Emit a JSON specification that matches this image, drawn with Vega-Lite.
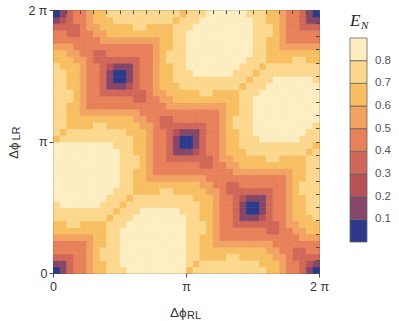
{"$schema":"https://vega.github.io/schema/vega-lite/v6.json","width":266,"height":263,"autosize":{"type":"none"},"padding":{"left":53,"top":10,"right":80,"bottom":48},"background":"#ffffff","config":{"view":{"stroke":"#4d4d4d","strokeWidth":1},"font":"Liberation Sans","axis":{"grid":false}},
"data":{"values":[
{"x":0.025,"y":0.025,"e":0.05},{"x":0.075,"y":0.025,"e":0.15},{"x":0.125,"y":0.025,"e":0.35},{"x":0.175,"y":0.025,"e":0.45},{"x":0.225,"y":0.025,"e":0.45},{"x":0.275,"y":0.025,"e":0.55},{"x":0.325,"y":0.025,"e":0.65},{"x":0.375,"y":0.025,"e":0.65},{"x":0.425,"y":0.025,"e":0.75},{"x":0.475,"y":0.025,"e":0.75},{"x":0.525,"y":0.025,"e":0.75},{"x":0.575,"y":0.025,"e":0.85},{"x":0.625,"y":0.025,"e":0.85},{"x":0.675,"y":0.025,"e":0.85},{"x":0.725,"y":0.025,"e":0.85},{"x":0.775,"y":0.025,"e":0.85},{"x":0.825,"y":0.025,"e":0.85},{"x":0.875,"y":0.025,"e":0.85},{"x":0.925,"y":0.025,"e":0.85},{"x":0.975,"y":0.025,"e":0.85},{"x":1.025,"y":0.025,"e":0.65},{"x":1.075,"y":0.025,"e":0.75},{"x":1.125,"y":0.025,"e":0.75},{"x":1.175,"y":0.025,"e":0.75},{"x":1.225,"y":0.025,"e":0.75},{"x":1.275,"y":0.025,"e":0.75},{"x":1.325,"y":0.025,"e":0.75},{"x":1.375,"y":0.025,"e":0.75},{"x":1.425,"y":0.025,"e":0.75},{"x":1.475,"y":0.025,"e":0.75},{"x":1.525,"y":0.025,"e":0.75},{"x":1.575,"y":0.025,"e":0.75},{"x":1.625,"y":0.025,"e":0.65},{"x":1.675,"y":0.025,"e":0.65},{"x":1.725,"y":0.025,"e":0.55},{"x":1.775,"y":0.025,"e":0.45},{"x":1.825,"y":0.025,"e":0.45},{"x":1.875,"y":0.025,"e":0.35},{"x":1.925,"y":0.025,"e":0.15},{"x":1.975,"y":0.025,"e":0.05},
{"x":0.025,"y":0.075,"e":0.15},{"x":0.075,"y":0.075,"e":0.15},{"x":0.125,"y":0.075,"e":0.35},{"x":0.175,"y":0.075,"e":0.45},{"x":0.225,"y":0.075,"e":0.45},{"x":0.275,"y":0.075,"e":0.55},{"x":0.325,"y":0.075,"e":0.65},{"x":0.375,"y":0.075,"e":0.65},{"x":0.425,"y":0.075,"e":0.75},{"x":0.475,"y":0.075,"e":0.75},{"x":0.525,"y":0.075,"e":0.85},{"x":0.575,"y":0.075,"e":0.85},{"x":0.625,"y":0.075,"e":0.85},{"x":0.675,"y":0.075,"e":0.85},{"x":0.725,"y":0.075,"e":0.85},{"x":0.775,"y":0.075,"e":0.85},{"x":0.825,"y":0.075,"e":0.85},{"x":0.875,"y":0.075,"e":0.85},{"x":0.925,"y":0.075,"e":0.85},{"x":0.975,"y":0.075,"e":0.85},{"x":1.025,"y":0.075,"e":0.75},{"x":1.075,"y":0.075,"e":0.65},{"x":1.125,"y":0.075,"e":0.75},{"x":1.175,"y":0.075,"e":0.75},{"x":1.225,"y":0.075,"e":0.75},{"x":1.275,"y":0.075,"e":0.75},{"x":1.325,"y":0.075,"e":0.75},{"x":1.375,"y":0.075,"e":0.75},{"x":1.425,"y":0.075,"e":0.75},{"x":1.475,"y":0.075,"e":0.75},{"x":1.525,"y":0.075,"e":0.75},{"x":1.575,"y":0.075,"e":0.65},{"x":1.625,"y":0.075,"e":0.65},{"x":1.675,"y":0.075,"e":0.65},{"x":1.725,"y":0.075,"e":0.55},{"x":1.775,"y":0.075,"e":0.45},{"x":1.825,"y":0.075,"e":0.45},{"x":1.875,"y":0.075,"e":0.35},{"x":1.925,"y":0.075,"e":0.25},{"x":1.975,"y":0.075,"e":0.15},
{"x":0.025,"y":0.125,"e":0.35},{"x":0.075,"y":0.125,"e":0.35},{"x":0.125,"y":0.125,"e":0.35},{"x":0.175,"y":0.125,"e":0.45},{"x":0.225,"y":0.125,"e":0.45},{"x":0.275,"y":0.125,"e":0.55},{"x":0.325,"y":0.125,"e":0.65},{"x":0.375,"y":0.125,"e":0.75},{"x":0.425,"y":0.125,"e":0.75},{"x":0.475,"y":0.125,"e":0.75},{"x":0.525,"y":0.125,"e":0.85},{"x":0.575,"y":0.125,"e":0.85},{"x":0.625,"y":0.125,"e":0.85},{"x":0.675,"y":0.125,"e":0.85},{"x":0.725,"y":0.125,"e":0.85},{"x":0.775,"y":0.125,"e":0.85},{"x":0.825,"y":0.125,"e":0.85},{"x":0.875,"y":0.125,"e":0.85},{"x":0.925,"y":0.125,"e":0.85},{"x":0.975,"y":0.125,"e":0.85},{"x":1.025,"y":0.125,"e":0.75},{"x":1.075,"y":0.125,"e":0.75},{"x":1.125,"y":0.125,"e":0.65},{"x":1.175,"y":0.125,"e":0.65},{"x":1.225,"y":0.125,"e":0.65},{"x":1.275,"y":0.125,"e":0.65},{"x":1.325,"y":0.125,"e":0.75},{"x":1.375,"y":0.125,"e":0.75},{"x":1.425,"y":0.125,"e":0.65},{"x":1.475,"y":0.125,"e":0.65},{"x":1.525,"y":0.125,"e":0.65},{"x":1.575,"y":0.125,"e":0.65},{"x":1.625,"y":0.125,"e":0.65},{"x":1.675,"y":0.125,"e":0.55},{"x":1.725,"y":0.125,"e":0.55},{"x":1.775,"y":0.125,"e":0.45},{"x":1.825,"y":0.125,"e":0.35},{"x":1.875,"y":0.125,"e":0.35},{"x":1.925,"y":0.125,"e":0.35},{"x":1.975,"y":0.125,"e":0.35},
{"x":0.025,"y":0.175,"e":0.45},{"x":0.075,"y":0.175,"e":0.45},{"x":0.125,"y":0.175,"e":0.45},{"x":0.175,"y":0.175,"e":0.45},{"x":0.225,"y":0.175,"e":0.45},{"x":0.275,"y":0.175,"e":0.55},{"x":0.325,"y":0.175,"e":0.65},{"x":0.375,"y":0.175,"e":0.75},{"x":0.425,"y":0.175,"e":0.75},{"x":0.475,"y":0.175,"e":0.75},{"x":0.525,"y":0.175,"e":0.85},{"x":0.575,"y":0.175,"e":0.85},{"x":0.625,"y":0.175,"e":0.85},{"x":0.675,"y":0.175,"e":0.85},{"x":0.725,"y":0.175,"e":0.85},{"x":0.775,"y":0.175,"e":0.85},{"x":0.825,"y":0.175,"e":0.85},{"x":0.875,"y":0.175,"e":0.85},{"x":0.925,"y":0.175,"e":0.85},{"x":0.975,"y":0.175,"e":0.85},{"x":1.025,"y":0.175,"e":0.75},{"x":1.075,"y":0.175,"e":0.75},{"x":1.125,"y":0.175,"e":0.65},{"x":1.175,"y":0.175,"e":0.65},{"x":1.225,"y":0.175,"e":0.65},{"x":1.275,"y":0.175,"e":0.65},{"x":1.325,"y":0.175,"e":0.65},{"x":1.375,"y":0.175,"e":0.65},{"x":1.425,"y":0.175,"e":0.65},{"x":1.475,"y":0.175,"e":0.65},{"x":1.525,"y":0.175,"e":0.65},{"x":1.575,"y":0.175,"e":0.65},{"x":1.625,"y":0.175,"e":0.55},{"x":1.675,"y":0.175,"e":0.55},{"x":1.725,"y":0.175,"e":0.45},{"x":1.775,"y":0.175,"e":0.45},{"x":1.825,"y":0.175,"e":0.35},{"x":1.875,"y":0.175,"e":0.35},{"x":1.925,"y":0.175,"e":0.45},{"x":1.975,"y":0.175,"e":0.45},
{"x":0.025,"y":0.225,"e":0.45},{"x":0.075,"y":0.225,"e":0.45},{"x":0.125,"y":0.225,"e":0.45},{"x":0.175,"y":0.225,"e":0.45},{"x":0.225,"y":0.225,"e":0.45},{"x":0.275,"y":0.225,"e":0.55},{"x":0.325,"y":0.225,"e":0.65},{"x":0.375,"y":0.225,"e":0.65},{"x":0.425,"y":0.225,"e":0.75},{"x":0.475,"y":0.225,"e":0.75},{"x":0.525,"y":0.225,"e":0.85},{"x":0.575,"y":0.225,"e":0.85},{"x":0.625,"y":0.225,"e":0.85},{"x":0.675,"y":0.225,"e":0.85},{"x":0.725,"y":0.225,"e":0.85},{"x":0.775,"y":0.225,"e":0.85},{"x":0.825,"y":0.225,"e":0.85},{"x":0.875,"y":0.225,"e":0.85},{"x":0.925,"y":0.225,"e":0.85},{"x":0.975,"y":0.225,"e":0.85},{"x":1.025,"y":0.225,"e":0.75},{"x":1.075,"y":0.225,"e":0.75},{"x":1.125,"y":0.225,"e":0.65},{"x":1.175,"y":0.225,"e":0.65},{"x":1.225,"y":0.225,"e":0.55},{"x":1.275,"y":0.225,"e":0.55},{"x":1.325,"y":0.225,"e":0.55},{"x":1.375,"y":0.225,"e":0.55},{"x":1.425,"y":0.225,"e":0.55},{"x":1.475,"y":0.225,"e":0.55},{"x":1.525,"y":0.225,"e":0.55},{"x":1.575,"y":0.225,"e":0.55},{"x":1.625,"y":0.225,"e":0.55},{"x":1.675,"y":0.225,"e":0.45},{"x":1.725,"y":0.225,"e":0.45},{"x":1.775,"y":0.225,"e":0.45},{"x":1.825,"y":0.225,"e":0.45},{"x":1.875,"y":0.225,"e":0.45},{"x":1.925,"y":0.225,"e":0.45},{"x":1.975,"y":0.225,"e":0.45},
{"x":0.025,"y":0.275,"e":0.55},{"x":0.075,"y":0.275,"e":0.55},{"x":0.125,"y":0.275,"e":0.55},{"x":0.175,"y":0.275,"e":0.55},{"x":0.225,"y":0.275,"e":0.55},{"x":0.275,"y":0.275,"e":0.55},{"x":0.325,"y":0.275,"e":0.65},{"x":0.375,"y":0.275,"e":0.65},{"x":0.425,"y":0.275,"e":0.75},{"x":0.475,"y":0.275,"e":0.75},{"x":0.525,"y":0.275,"e":0.85},{"x":0.575,"y":0.275,"e":0.85},{"x":0.625,"y":0.275,"e":0.85},{"x":0.675,"y":0.275,"e":0.85},{"x":0.725,"y":0.275,"e":0.85},{"x":0.775,"y":0.275,"e":0.85},{"x":0.825,"y":0.275,"e":0.85},{"x":0.875,"y":0.275,"e":0.85},{"x":0.925,"y":0.275,"e":0.85},{"x":0.975,"y":0.275,"e":0.85},{"x":1.025,"y":0.275,"e":0.75},{"x":1.075,"y":0.275,"e":0.75},{"x":1.125,"y":0.275,"e":0.65},{"x":1.175,"y":0.275,"e":0.65},{"x":1.225,"y":0.275,"e":0.55},{"x":1.275,"y":0.275,"e":0.45},{"x":1.325,"y":0.275,"e":0.45},{"x":1.375,"y":0.275,"e":0.45},{"x":1.425,"y":0.275,"e":0.45},{"x":1.475,"y":0.275,"e":0.45},{"x":1.525,"y":0.275,"e":0.45},{"x":1.575,"y":0.275,"e":0.45},{"x":1.625,"y":0.275,"e":0.45},{"x":1.675,"y":0.275,"e":0.45},{"x":1.725,"y":0.275,"e":0.45},{"x":1.775,"y":0.275,"e":0.45},{"x":1.825,"y":0.275,"e":0.45},{"x":1.875,"y":0.275,"e":0.55},{"x":1.925,"y":0.275,"e":0.55},{"x":1.975,"y":0.275,"e":0.55},
{"x":0.025,"y":0.325,"e":0.65},{"x":0.075,"y":0.325,"e":0.65},{"x":0.125,"y":0.325,"e":0.65},{"x":0.175,"y":0.325,"e":0.65},{"x":0.225,"y":0.325,"e":0.65},{"x":0.275,"y":0.325,"e":0.65},{"x":0.325,"y":0.325,"e":0.65},{"x":0.375,"y":0.325,"e":0.65},{"x":0.425,"y":0.325,"e":0.75},{"x":0.475,"y":0.325,"e":0.75},{"x":0.525,"y":0.325,"e":0.85},{"x":0.575,"y":0.325,"e":0.85},{"x":0.625,"y":0.325,"e":0.85},{"x":0.675,"y":0.325,"e":0.85},{"x":0.725,"y":0.325,"e":0.85},{"x":0.775,"y":0.325,"e":0.85},{"x":0.825,"y":0.325,"e":0.85},{"x":0.875,"y":0.325,"e":0.85},{"x":0.925,"y":0.325,"e":0.85},{"x":0.975,"y":0.325,"e":0.85},{"x":1.025,"y":0.325,"e":0.75},{"x":1.075,"y":0.325,"e":0.75},{"x":1.125,"y":0.325,"e":0.75},{"x":1.175,"y":0.325,"e":0.65},{"x":1.225,"y":0.325,"e":0.55},{"x":1.275,"y":0.325,"e":0.45},{"x":1.325,"y":0.325,"e":0.45},{"x":1.375,"y":0.325,"e":0.45},{"x":1.425,"y":0.325,"e":0.45},{"x":1.475,"y":0.325,"e":0.45},{"x":1.525,"y":0.325,"e":0.45},{"x":1.575,"y":0.325,"e":0.45},{"x":1.625,"y":0.325,"e":0.35},{"x":1.675,"y":0.325,"e":0.35},{"x":1.725,"y":0.325,"e":0.45},{"x":1.775,"y":0.325,"e":0.45},{"x":1.825,"y":0.325,"e":0.55},{"x":1.875,"y":0.325,"e":0.55},{"x":1.925,"y":0.325,"e":0.65},{"x":1.975,"y":0.325,"e":0.65},
{"x":0.025,"y":0.375,"e":0.65},{"x":0.075,"y":0.375,"e":0.65},{"x":0.125,"y":0.375,"e":0.75},{"x":0.175,"y":0.375,"e":0.75},{"x":0.225,"y":0.375,"e":0.65},{"x":0.275,"y":0.375,"e":0.65},{"x":0.325,"y":0.375,"e":0.65},{"x":0.375,"y":0.375,"e":0.65},{"x":0.425,"y":0.375,"e":0.75},{"x":0.475,"y":0.375,"e":0.75},{"x":0.525,"y":0.375,"e":0.75},{"x":0.575,"y":0.375,"e":0.85},{"x":0.625,"y":0.375,"e":0.85},{"x":0.675,"y":0.375,"e":0.85},{"x":0.725,"y":0.375,"e":0.85},{"x":0.775,"y":0.375,"e":0.85},{"x":0.825,"y":0.375,"e":0.85},{"x":0.875,"y":0.375,"e":0.85},{"x":0.925,"y":0.375,"e":0.85},{"x":0.975,"y":0.375,"e":0.85},{"x":1.025,"y":0.375,"e":0.75},{"x":1.075,"y":0.375,"e":0.75},{"x":1.125,"y":0.375,"e":0.75},{"x":1.175,"y":0.375,"e":0.65},{"x":1.225,"y":0.375,"e":0.55},{"x":1.275,"y":0.375,"e":0.45},{"x":1.325,"y":0.375,"e":0.45},{"x":1.375,"y":0.375,"e":0.35},{"x":1.425,"y":0.375,"e":0.35},{"x":1.475,"y":0.375,"e":0.35},{"x":1.525,"y":0.375,"e":0.35},{"x":1.575,"y":0.375,"e":0.35},{"x":1.625,"y":0.375,"e":0.35},{"x":1.675,"y":0.375,"e":0.35},{"x":1.725,"y":0.375,"e":0.45},{"x":1.775,"y":0.375,"e":0.55},{"x":1.825,"y":0.375,"e":0.55},{"x":1.875,"y":0.375,"e":0.65},{"x":1.925,"y":0.375,"e":0.65},{"x":1.975,"y":0.375,"e":0.65},
{"x":0.025,"y":0.425,"e":0.75},{"x":0.075,"y":0.425,"e":0.75},{"x":0.125,"y":0.425,"e":0.75},{"x":0.175,"y":0.425,"e":0.75},{"x":0.225,"y":0.425,"e":0.75},{"x":0.275,"y":0.425,"e":0.75},{"x":0.325,"y":0.425,"e":0.75},{"x":0.375,"y":0.425,"e":0.75},{"x":0.425,"y":0.425,"e":0.65},{"x":0.475,"y":0.425,"e":0.75},{"x":0.525,"y":0.425,"e":0.75},{"x":0.575,"y":0.425,"e":0.75},{"x":0.625,"y":0.425,"e":0.85},{"x":0.675,"y":0.425,"e":0.85},{"x":0.725,"y":0.425,"e":0.85},{"x":0.775,"y":0.425,"e":0.85},{"x":0.825,"y":0.425,"e":0.85},{"x":0.875,"y":0.425,"e":0.85},{"x":0.925,"y":0.425,"e":0.85},{"x":0.975,"y":0.425,"e":0.85},{"x":1.025,"y":0.425,"e":0.75},{"x":1.075,"y":0.425,"e":0.75},{"x":1.125,"y":0.425,"e":0.65},{"x":1.175,"y":0.425,"e":0.65},{"x":1.225,"y":0.425,"e":0.55},{"x":1.275,"y":0.425,"e":0.45},{"x":1.325,"y":0.425,"e":0.45},{"x":1.375,"y":0.425,"e":0.35},{"x":1.425,"y":0.425,"e":0.15},{"x":1.475,"y":0.425,"e":0.15},{"x":1.525,"y":0.425,"e":0.15},{"x":1.575,"y":0.425,"e":0.25},{"x":1.625,"y":0.425,"e":0.35},{"x":1.675,"y":0.425,"e":0.45},{"x":1.725,"y":0.425,"e":0.45},{"x":1.775,"y":0.425,"e":0.55},{"x":1.825,"y":0.425,"e":0.65},{"x":1.875,"y":0.425,"e":0.65},{"x":1.925,"y":0.425,"e":0.65},{"x":1.975,"y":0.425,"e":0.75},
{"x":0.025,"y":0.475,"e":0.75},{"x":0.075,"y":0.475,"e":0.75},{"x":0.125,"y":0.475,"e":0.75},{"x":0.175,"y":0.475,"e":0.75},{"x":0.225,"y":0.475,"e":0.75},{"x":0.275,"y":0.475,"e":0.75},{"x":0.325,"y":0.475,"e":0.75},{"x":0.375,"y":0.475,"e":0.75},{"x":0.425,"y":0.475,"e":0.75},{"x":0.475,"y":0.475,"e":0.65},{"x":0.525,"y":0.475,"e":0.75},{"x":0.575,"y":0.475,"e":0.75},{"x":0.625,"y":0.475,"e":0.75},{"x":0.675,"y":0.475,"e":0.85},{"x":0.725,"y":0.475,"e":0.85},{"x":0.775,"y":0.475,"e":0.85},{"x":0.825,"y":0.475,"e":0.85},{"x":0.875,"y":0.475,"e":0.85},{"x":0.925,"y":0.475,"e":0.85},{"x":0.975,"y":0.475,"e":0.75},{"x":1.025,"y":0.475,"e":0.75},{"x":1.075,"y":0.475,"e":0.75},{"x":1.125,"y":0.475,"e":0.65},{"x":1.175,"y":0.475,"e":0.65},{"x":1.225,"y":0.475,"e":0.55},{"x":1.275,"y":0.475,"e":0.45},{"x":1.325,"y":0.475,"e":0.45},{"x":1.375,"y":0.475,"e":0.35},{"x":1.425,"y":0.475,"e":0.15},{"x":1.475,"y":0.475,"e":0.05},{"x":1.525,"y":0.475,"e":0.05},{"x":1.575,"y":0.475,"e":0.15},{"x":1.625,"y":0.475,"e":0.35},{"x":1.675,"y":0.475,"e":0.45},{"x":1.725,"y":0.475,"e":0.45},{"x":1.775,"y":0.475,"e":0.55},{"x":1.825,"y":0.475,"e":0.65},{"x":1.875,"y":0.475,"e":0.65},{"x":1.925,"y":0.475,"e":0.75},{"x":1.975,"y":0.475,"e":0.75},
{"x":0.025,"y":0.525,"e":0.75},{"x":0.075,"y":0.525,"e":0.85},{"x":0.125,"y":0.525,"e":0.85},{"x":0.175,"y":0.525,"e":0.85},{"x":0.225,"y":0.525,"e":0.85},{"x":0.275,"y":0.525,"e":0.85},{"x":0.325,"y":0.525,"e":0.85},{"x":0.375,"y":0.525,"e":0.75},{"x":0.425,"y":0.525,"e":0.75},{"x":0.475,"y":0.525,"e":0.75},{"x":0.525,"y":0.525,"e":0.65},{"x":0.575,"y":0.525,"e":0.75},{"x":0.625,"y":0.525,"e":0.75},{"x":0.675,"y":0.525,"e":0.75},{"x":0.725,"y":0.525,"e":0.75},{"x":0.775,"y":0.525,"e":0.75},{"x":0.825,"y":0.525,"e":0.75},{"x":0.875,"y":0.525,"e":0.75},{"x":0.925,"y":0.525,"e":0.75},{"x":0.975,"y":0.525,"e":0.75},{"x":1.025,"y":0.525,"e":0.75},{"x":1.075,"y":0.525,"e":0.75},{"x":1.125,"y":0.525,"e":0.65},{"x":1.175,"y":0.525,"e":0.65},{"x":1.225,"y":0.525,"e":0.55},{"x":1.275,"y":0.525,"e":0.45},{"x":1.325,"y":0.525,"e":0.45},{"x":1.375,"y":0.525,"e":0.35},{"x":1.425,"y":0.525,"e":0.15},{"x":1.475,"y":0.525,"e":0.05},{"x":1.525,"y":0.525,"e":0.05},{"x":1.575,"y":0.525,"e":0.15},{"x":1.625,"y":0.525,"e":0.35},{"x":1.675,"y":0.525,"e":0.45},{"x":1.725,"y":0.525,"e":0.45},{"x":1.775,"y":0.525,"e":0.55},{"x":1.825,"y":0.525,"e":0.65},{"x":1.875,"y":0.525,"e":0.65},{"x":1.925,"y":0.525,"e":0.75},{"x":1.975,"y":0.525,"e":0.75},
{"x":0.025,"y":0.575,"e":0.85},{"x":0.075,"y":0.575,"e":0.85},{"x":0.125,"y":0.575,"e":0.85},{"x":0.175,"y":0.575,"e":0.85},{"x":0.225,"y":0.575,"e":0.85},{"x":0.275,"y":0.575,"e":0.85},{"x":0.325,"y":0.575,"e":0.85},{"x":0.375,"y":0.575,"e":0.85},{"x":0.425,"y":0.575,"e":0.75},{"x":0.475,"y":0.575,"e":0.75},{"x":0.525,"y":0.575,"e":0.75},{"x":0.575,"y":0.575,"e":0.65},{"x":0.625,"y":0.575,"e":0.75},{"x":0.675,"y":0.575,"e":0.75},{"x":0.725,"y":0.575,"e":0.75},{"x":0.775,"y":0.575,"e":0.75},{"x":0.825,"y":0.575,"e":0.75},{"x":0.875,"y":0.575,"e":0.75},{"x":0.925,"y":0.575,"e":0.75},{"x":0.975,"y":0.575,"e":0.75},{"x":1.025,"y":0.575,"e":0.75},{"x":1.075,"y":0.575,"e":0.65},{"x":1.125,"y":0.575,"e":0.65},{"x":1.175,"y":0.575,"e":0.65},{"x":1.225,"y":0.575,"e":0.55},{"x":1.275,"y":0.575,"e":0.45},{"x":1.325,"y":0.575,"e":0.45},{"x":1.375,"y":0.575,"e":0.35},{"x":1.425,"y":0.575,"e":0.25},{"x":1.475,"y":0.575,"e":0.15},{"x":1.525,"y":0.575,"e":0.15},{"x":1.575,"y":0.575,"e":0.15},{"x":1.625,"y":0.575,"e":0.35},{"x":1.675,"y":0.575,"e":0.45},{"x":1.725,"y":0.575,"e":0.45},{"x":1.775,"y":0.575,"e":0.55},{"x":1.825,"y":0.575,"e":0.65},{"x":1.875,"y":0.575,"e":0.65},{"x":1.925,"y":0.575,"e":0.75},{"x":1.975,"y":0.575,"e":0.75},
{"x":0.025,"y":0.625,"e":0.85},{"x":0.075,"y":0.625,"e":0.85},{"x":0.125,"y":0.625,"e":0.85},{"x":0.175,"y":0.625,"e":0.85},{"x":0.225,"y":0.625,"e":0.85},{"x":0.275,"y":0.625,"e":0.85},{"x":0.325,"y":0.625,"e":0.85},{"x":0.375,"y":0.625,"e":0.85},{"x":0.425,"y":0.625,"e":0.85},{"x":0.475,"y":0.625,"e":0.75},{"x":0.525,"y":0.625,"e":0.75},{"x":0.575,"y":0.625,"e":0.75},{"x":0.625,"y":0.625,"e":0.65},{"x":0.675,"y":0.625,"e":0.65},{"x":0.725,"y":0.625,"e":0.65},{"x":0.775,"y":0.625,"e":0.65},{"x":0.825,"y":0.625,"e":0.75},{"x":0.875,"y":0.625,"e":0.75},{"x":0.925,"y":0.625,"e":0.65},{"x":0.975,"y":0.625,"e":0.65},{"x":1.025,"y":0.625,"e":0.65},{"x":1.075,"y":0.625,"e":0.65},{"x":1.125,"y":0.625,"e":0.65},{"x":1.175,"y":0.625,"e":0.55},{"x":1.225,"y":0.625,"e":0.55},{"x":1.275,"y":0.625,"e":0.45},{"x":1.325,"y":0.625,"e":0.35},{"x":1.375,"y":0.625,"e":0.35},{"x":1.425,"y":0.625,"e":0.35},{"x":1.475,"y":0.625,"e":0.35},{"x":1.525,"y":0.625,"e":0.35},{"x":1.575,"y":0.625,"e":0.35},{"x":1.625,"y":0.625,"e":0.35},{"x":1.675,"y":0.625,"e":0.45},{"x":1.725,"y":0.625,"e":0.45},{"x":1.775,"y":0.625,"e":0.55},{"x":1.825,"y":0.625,"e":0.65},{"x":1.875,"y":0.625,"e":0.75},{"x":1.925,"y":0.625,"e":0.75},{"x":1.975,"y":0.625,"e":0.75},
{"x":0.025,"y":0.675,"e":0.85},{"x":0.075,"y":0.675,"e":0.85},{"x":0.125,"y":0.675,"e":0.85},{"x":0.175,"y":0.675,"e":0.85},{"x":0.225,"y":0.675,"e":0.85},{"x":0.275,"y":0.675,"e":0.85},{"x":0.325,"y":0.675,"e":0.85},{"x":0.375,"y":0.675,"e":0.85},{"x":0.425,"y":0.675,"e":0.85},{"x":0.475,"y":0.675,"e":0.85},{"x":0.525,"y":0.675,"e":0.75},{"x":0.575,"y":0.675,"e":0.75},{"x":0.625,"y":0.675,"e":0.65},{"x":0.675,"y":0.675,"e":0.65},{"x":0.725,"y":0.675,"e":0.65},{"x":0.775,"y":0.675,"e":0.65},{"x":0.825,"y":0.675,"e":0.65},{"x":0.875,"y":0.675,"e":0.65},{"x":0.925,"y":0.675,"e":0.65},{"x":0.975,"y":0.675,"e":0.65},{"x":1.025,"y":0.675,"e":0.65},{"x":1.075,"y":0.675,"e":0.65},{"x":1.125,"y":0.675,"e":0.55},{"x":1.175,"y":0.675,"e":0.55},{"x":1.225,"y":0.675,"e":0.45},{"x":1.275,"y":0.675,"e":0.45},{"x":1.325,"y":0.675,"e":0.35},{"x":1.375,"y":0.675,"e":0.35},{"x":1.425,"y":0.675,"e":0.45},{"x":1.475,"y":0.675,"e":0.45},{"x":1.525,"y":0.675,"e":0.45},{"x":1.575,"y":0.675,"e":0.45},{"x":1.625,"y":0.675,"e":0.45},{"x":1.675,"y":0.675,"e":0.45},{"x":1.725,"y":0.675,"e":0.45},{"x":1.775,"y":0.675,"e":0.55},{"x":1.825,"y":0.675,"e":0.65},{"x":1.875,"y":0.675,"e":0.75},{"x":1.925,"y":0.675,"e":0.75},{"x":1.975,"y":0.675,"e":0.75},
{"x":0.025,"y":0.725,"e":0.85},{"x":0.075,"y":0.725,"e":0.85},{"x":0.125,"y":0.725,"e":0.85},{"x":0.175,"y":0.725,"e":0.85},{"x":0.225,"y":0.725,"e":0.85},{"x":0.275,"y":0.725,"e":0.85},{"x":0.325,"y":0.725,"e":0.85},{"x":0.375,"y":0.725,"e":0.85},{"x":0.425,"y":0.725,"e":0.85},{"x":0.475,"y":0.725,"e":0.85},{"x":0.525,"y":0.725,"e":0.75},{"x":0.575,"y":0.725,"e":0.75},{"x":0.625,"y":0.725,"e":0.65},{"x":0.675,"y":0.725,"e":0.65},{"x":0.725,"y":0.725,"e":0.55},{"x":0.775,"y":0.725,"e":0.55},{"x":0.825,"y":0.725,"e":0.55},{"x":0.875,"y":0.725,"e":0.55},{"x":0.925,"y":0.725,"e":0.55},{"x":0.975,"y":0.725,"e":0.55},{"x":1.025,"y":0.725,"e":0.55},{"x":1.075,"y":0.725,"e":0.55},{"x":1.125,"y":0.725,"e":0.55},{"x":1.175,"y":0.725,"e":0.45},{"x":1.225,"y":0.725,"e":0.45},{"x":1.275,"y":0.725,"e":0.45},{"x":1.325,"y":0.725,"e":0.45},{"x":1.375,"y":0.725,"e":0.45},{"x":1.425,"y":0.725,"e":0.45},{"x":1.475,"y":0.725,"e":0.45},{"x":1.525,"y":0.725,"e":0.45},{"x":1.575,"y":0.725,"e":0.45},{"x":1.625,"y":0.725,"e":0.45},{"x":1.675,"y":0.725,"e":0.45},{"x":1.725,"y":0.725,"e":0.45},{"x":1.775,"y":0.725,"e":0.55},{"x":1.825,"y":0.725,"e":0.65},{"x":1.875,"y":0.725,"e":0.65},{"x":1.925,"y":0.725,"e":0.75},{"x":1.975,"y":0.725,"e":0.75},
{"x":0.025,"y":0.775,"e":0.85},{"x":0.075,"y":0.775,"e":0.85},{"x":0.125,"y":0.775,"e":0.85},{"x":0.175,"y":0.775,"e":0.85},{"x":0.225,"y":0.775,"e":0.85},{"x":0.275,"y":0.775,"e":0.85},{"x":0.325,"y":0.775,"e":0.85},{"x":0.375,"y":0.775,"e":0.85},{"x":0.425,"y":0.775,"e":0.85},{"x":0.475,"y":0.775,"e":0.85},{"x":0.525,"y":0.775,"e":0.75},{"x":0.575,"y":0.775,"e":0.75},{"x":0.625,"y":0.775,"e":0.65},{"x":0.675,"y":0.775,"e":0.65},{"x":0.725,"y":0.775,"e":0.55},{"x":0.775,"y":0.775,"e":0.45},{"x":0.825,"y":0.775,"e":0.45},{"x":0.875,"y":0.775,"e":0.45},{"x":0.925,"y":0.775,"e":0.45},{"x":0.975,"y":0.775,"e":0.45},{"x":1.025,"y":0.775,"e":0.45},{"x":1.075,"y":0.775,"e":0.45},{"x":1.125,"y":0.775,"e":0.45},{"x":1.175,"y":0.775,"e":0.45},{"x":1.225,"y":0.775,"e":0.45},{"x":1.275,"y":0.775,"e":0.45},{"x":1.325,"y":0.775,"e":0.45},{"x":1.375,"y":0.775,"e":0.55},{"x":1.425,"y":0.775,"e":0.55},{"x":1.475,"y":0.775,"e":0.55},{"x":1.525,"y":0.775,"e":0.55},{"x":1.575,"y":0.775,"e":0.55},{"x":1.625,"y":0.775,"e":0.55},{"x":1.675,"y":0.775,"e":0.55},{"x":1.725,"y":0.775,"e":0.55},{"x":1.775,"y":0.775,"e":0.55},{"x":1.825,"y":0.775,"e":0.65},{"x":1.875,"y":0.775,"e":0.65},{"x":1.925,"y":0.775,"e":0.75},{"x":1.975,"y":0.775,"e":0.75},
{"x":0.025,"y":0.825,"e":0.85},{"x":0.075,"y":0.825,"e":0.85},{"x":0.125,"y":0.825,"e":0.85},{"x":0.175,"y":0.825,"e":0.85},{"x":0.225,"y":0.825,"e":0.85},{"x":0.275,"y":0.825,"e":0.85},{"x":0.325,"y":0.825,"e":0.85},{"x":0.375,"y":0.825,"e":0.85},{"x":0.425,"y":0.825,"e":0.85},{"x":0.475,"y":0.825,"e":0.85},{"x":0.525,"y":0.825,"e":0.75},{"x":0.575,"y":0.825,"e":0.75},{"x":0.625,"y":0.825,"e":0.75},{"x":0.675,"y":0.825,"e":0.65},{"x":0.725,"y":0.825,"e":0.55},{"x":0.775,"y":0.825,"e":0.45},{"x":0.825,"y":0.825,"e":0.45},{"x":0.875,"y":0.825,"e":0.45},{"x":0.925,"y":0.825,"e":0.45},{"x":0.975,"y":0.825,"e":0.45},{"x":1.025,"y":0.825,"e":0.45},{"x":1.075,"y":0.825,"e":0.45},{"x":1.125,"y":0.825,"e":0.35},{"x":1.175,"y":0.825,"e":0.35},{"x":1.225,"y":0.825,"e":0.45},{"x":1.275,"y":0.825,"e":0.45},{"x":1.325,"y":0.825,"e":0.55},{"x":1.375,"y":0.825,"e":0.55},{"x":1.425,"y":0.825,"e":0.65},{"x":1.475,"y":0.825,"e":0.65},{"x":1.525,"y":0.825,"e":0.65},{"x":1.575,"y":0.825,"e":0.65},{"x":1.625,"y":0.825,"e":0.65},{"x":1.675,"y":0.825,"e":0.65},{"x":1.725,"y":0.825,"e":0.65},{"x":1.775,"y":0.825,"e":0.65},{"x":1.825,"y":0.825,"e":0.65},{"x":1.875,"y":0.825,"e":0.65},{"x":1.925,"y":0.825,"e":0.75},{"x":1.975,"y":0.825,"e":0.75},
{"x":0.025,"y":0.875,"e":0.85},{"x":0.075,"y":0.875,"e":0.85},{"x":0.125,"y":0.875,"e":0.85},{"x":0.175,"y":0.875,"e":0.85},{"x":0.225,"y":0.875,"e":0.85},{"x":0.275,"y":0.875,"e":0.85},{"x":0.325,"y":0.875,"e":0.85},{"x":0.375,"y":0.875,"e":0.85},{"x":0.425,"y":0.875,"e":0.85},{"x":0.475,"y":0.875,"e":0.85},{"x":0.525,"y":0.875,"e":0.75},{"x":0.575,"y":0.875,"e":0.75},{"x":0.625,"y":0.875,"e":0.75},{"x":0.675,"y":0.875,"e":0.65},{"x":0.725,"y":0.875,"e":0.55},{"x":0.775,"y":0.875,"e":0.45},{"x":0.825,"y":0.875,"e":0.45},{"x":0.875,"y":0.875,"e":0.35},{"x":0.925,"y":0.875,"e":0.35},{"x":0.975,"y":0.875,"e":0.35},{"x":1.025,"y":0.875,"e":0.35},{"x":1.075,"y":0.875,"e":0.35},{"x":1.125,"y":0.875,"e":0.35},{"x":1.175,"y":0.875,"e":0.35},{"x":1.225,"y":0.875,"e":0.45},{"x":1.275,"y":0.875,"e":0.55},{"x":1.325,"y":0.875,"e":0.55},{"x":1.375,"y":0.875,"e":0.65},{"x":1.425,"y":0.875,"e":0.65},{"x":1.475,"y":0.875,"e":0.65},{"x":1.525,"y":0.875,"e":0.65},{"x":1.575,"y":0.875,"e":0.65},{"x":1.625,"y":0.875,"e":0.75},{"x":1.675,"y":0.875,"e":0.75},{"x":1.725,"y":0.875,"e":0.65},{"x":1.775,"y":0.875,"e":0.65},{"x":1.825,"y":0.875,"e":0.65},{"x":1.875,"y":0.875,"e":0.65},{"x":1.925,"y":0.875,"e":0.75},{"x":1.975,"y":0.875,"e":0.75},
{"x":0.025,"y":0.925,"e":0.85},{"x":0.075,"y":0.925,"e":0.85},{"x":0.125,"y":0.925,"e":0.85},{"x":0.175,"y":0.925,"e":0.85},{"x":0.225,"y":0.925,"e":0.85},{"x":0.275,"y":0.925,"e":0.85},{"x":0.325,"y":0.925,"e":0.85},{"x":0.375,"y":0.925,"e":0.85},{"x":0.425,"y":0.925,"e":0.85},{"x":0.475,"y":0.925,"e":0.85},{"x":0.525,"y":0.925,"e":0.75},{"x":0.575,"y":0.925,"e":0.75},{"x":0.625,"y":0.925,"e":0.65},{"x":0.675,"y":0.925,"e":0.65},{"x":0.725,"y":0.925,"e":0.55},{"x":0.775,"y":0.925,"e":0.45},{"x":0.825,"y":0.925,"e":0.45},{"x":0.875,"y":0.925,"e":0.35},{"x":0.925,"y":0.925,"e":0.15},{"x":0.975,"y":0.925,"e":0.15},{"x":1.025,"y":0.925,"e":0.15},{"x":1.075,"y":0.925,"e":0.25},{"x":1.125,"y":0.925,"e":0.35},{"x":1.175,"y":0.925,"e":0.45},{"x":1.225,"y":0.925,"e":0.45},{"x":1.275,"y":0.925,"e":0.55},{"x":1.325,"y":0.925,"e":0.65},{"x":1.375,"y":0.925,"e":0.65},{"x":1.425,"y":0.925,"e":0.65},{"x":1.475,"y":0.925,"e":0.75},{"x":1.525,"y":0.925,"e":0.75},{"x":1.575,"y":0.925,"e":0.75},{"x":1.625,"y":0.925,"e":0.75},{"x":1.675,"y":0.925,"e":0.75},{"x":1.725,"y":0.925,"e":0.75},{"x":1.775,"y":0.925,"e":0.75},{"x":1.825,"y":0.925,"e":0.75},{"x":1.875,"y":0.925,"e":0.75},{"x":1.925,"y":0.925,"e":0.65},{"x":1.975,"y":0.925,"e":0.75},
{"x":0.025,"y":0.975,"e":0.85},{"x":0.075,"y":0.975,"e":0.85},{"x":0.125,"y":0.975,"e":0.85},{"x":0.175,"y":0.975,"e":0.85},{"x":0.225,"y":0.975,"e":0.85},{"x":0.275,"y":0.975,"e":0.85},{"x":0.325,"y":0.975,"e":0.85},{"x":0.375,"y":0.975,"e":0.85},{"x":0.425,"y":0.975,"e":0.85},{"x":0.475,"y":0.975,"e":0.75},{"x":0.525,"y":0.975,"e":0.75},{"x":0.575,"y":0.975,"e":0.75},{"x":0.625,"y":0.975,"e":0.65},{"x":0.675,"y":0.975,"e":0.65},{"x":0.725,"y":0.975,"e":0.55},{"x":0.775,"y":0.975,"e":0.45},{"x":0.825,"y":0.975,"e":0.45},{"x":0.875,"y":0.975,"e":0.35},{"x":0.925,"y":0.975,"e":0.15},{"x":0.975,"y":0.975,"e":0.05},{"x":1.025,"y":0.975,"e":0.05},{"x":1.075,"y":0.975,"e":0.15},{"x":1.125,"y":0.975,"e":0.35},{"x":1.175,"y":0.975,"e":0.45},{"x":1.225,"y":0.975,"e":0.45},{"x":1.275,"y":0.975,"e":0.55},{"x":1.325,"y":0.975,"e":0.65},{"x":1.375,"y":0.975,"e":0.65},{"x":1.425,"y":0.975,"e":0.75},{"x":1.475,"y":0.975,"e":0.75},{"x":1.525,"y":0.975,"e":0.75},{"x":1.575,"y":0.975,"e":0.75},{"x":1.625,"y":0.975,"e":0.75},{"x":1.675,"y":0.975,"e":0.75},{"x":1.725,"y":0.975,"e":0.75},{"x":1.775,"y":0.975,"e":0.75},{"x":1.825,"y":0.975,"e":0.75},{"x":1.875,"y":0.975,"e":0.75},{"x":1.925,"y":0.975,"e":0.75},{"x":1.975,"y":0.975,"e":0.65},
{"x":0.025,"y":1.025,"e":0.65},{"x":0.075,"y":1.025,"e":0.75},{"x":0.125,"y":1.025,"e":0.75},{"x":0.175,"y":1.025,"e":0.75},{"x":0.225,"y":1.025,"e":0.75},{"x":0.275,"y":1.025,"e":0.75},{"x":0.325,"y":1.025,"e":0.75},{"x":0.375,"y":1.025,"e":0.75},{"x":0.425,"y":1.025,"e":0.75},{"x":0.475,"y":1.025,"e":0.75},{"x":0.525,"y":1.025,"e":0.75},{"x":0.575,"y":1.025,"e":0.75},{"x":0.625,"y":1.025,"e":0.65},{"x":0.675,"y":1.025,"e":0.65},{"x":0.725,"y":1.025,"e":0.55},{"x":0.775,"y":1.025,"e":0.45},{"x":0.825,"y":1.025,"e":0.45},{"x":0.875,"y":1.025,"e":0.35},{"x":0.925,"y":1.025,"e":0.15},{"x":0.975,"y":1.025,"e":0.05},{"x":1.025,"y":1.025,"e":0.05},{"x":1.075,"y":1.025,"e":0.15},{"x":1.125,"y":1.025,"e":0.35},{"x":1.175,"y":1.025,"e":0.45},{"x":1.225,"y":1.025,"e":0.45},{"x":1.275,"y":1.025,"e":0.55},{"x":1.325,"y":1.025,"e":0.65},{"x":1.375,"y":1.025,"e":0.65},{"x":1.425,"y":1.025,"e":0.75},{"x":1.475,"y":1.025,"e":0.75},{"x":1.525,"y":1.025,"e":0.75},{"x":1.575,"y":1.025,"e":0.85},{"x":1.625,"y":1.025,"e":0.85},{"x":1.675,"y":1.025,"e":0.85},{"x":1.725,"y":1.025,"e":0.85},{"x":1.775,"y":1.025,"e":0.85},{"x":1.825,"y":1.025,"e":0.85},{"x":1.875,"y":1.025,"e":0.75},{"x":1.925,"y":1.025,"e":0.75},{"x":1.975,"y":1.025,"e":0.75},
{"x":0.025,"y":1.075,"e":0.75},{"x":0.075,"y":1.075,"e":0.65},{"x":0.125,"y":1.075,"e":0.75},{"x":0.175,"y":1.075,"e":0.75},{"x":0.225,"y":1.075,"e":0.75},{"x":0.275,"y":1.075,"e":0.75},{"x":0.325,"y":1.075,"e":0.75},{"x":0.375,"y":1.075,"e":0.75},{"x":0.425,"y":1.075,"e":0.75},{"x":0.475,"y":1.075,"e":0.75},{"x":0.525,"y":1.075,"e":0.75},{"x":0.575,"y":1.075,"e":0.65},{"x":0.625,"y":1.075,"e":0.65},{"x":0.675,"y":1.075,"e":0.65},{"x":0.725,"y":1.075,"e":0.55},{"x":0.775,"y":1.075,"e":0.45},{"x":0.825,"y":1.075,"e":0.45},{"x":0.875,"y":1.075,"e":0.35},{"x":0.925,"y":1.075,"e":0.25},{"x":0.975,"y":1.075,"e":0.15},{"x":1.025,"y":1.075,"e":0.15},{"x":1.075,"y":1.075,"e":0.15},{"x":1.125,"y":1.075,"e":0.35},{"x":1.175,"y":1.075,"e":0.45},{"x":1.225,"y":1.075,"e":0.45},{"x":1.275,"y":1.075,"e":0.55},{"x":1.325,"y":1.075,"e":0.65},{"x":1.375,"y":1.075,"e":0.65},{"x":1.425,"y":1.075,"e":0.75},{"x":1.475,"y":1.075,"e":0.75},{"x":1.525,"y":1.075,"e":0.85},{"x":1.575,"y":1.075,"e":0.85},{"x":1.625,"y":1.075,"e":0.85},{"x":1.675,"y":1.075,"e":0.85},{"x":1.725,"y":1.075,"e":0.85},{"x":1.775,"y":1.075,"e":0.85},{"x":1.825,"y":1.075,"e":0.85},{"x":1.875,"y":1.075,"e":0.85},{"x":1.925,"y":1.075,"e":0.75},{"x":1.975,"y":1.075,"e":0.75},
{"x":0.025,"y":1.125,"e":0.75},{"x":0.075,"y":1.125,"e":0.75},{"x":0.125,"y":1.125,"e":0.65},{"x":0.175,"y":1.125,"e":0.65},{"x":0.225,"y":1.125,"e":0.65},{"x":0.275,"y":1.125,"e":0.65},{"x":0.325,"y":1.125,"e":0.75},{"x":0.375,"y":1.125,"e":0.75},{"x":0.425,"y":1.125,"e":0.65},{"x":0.475,"y":1.125,"e":0.65},{"x":0.525,"y":1.125,"e":0.65},{"x":0.575,"y":1.125,"e":0.65},{"x":0.625,"y":1.125,"e":0.65},{"x":0.675,"y":1.125,"e":0.55},{"x":0.725,"y":1.125,"e":0.55},{"x":0.775,"y":1.125,"e":0.45},{"x":0.825,"y":1.125,"e":0.35},{"x":0.875,"y":1.125,"e":0.35},{"x":0.925,"y":1.125,"e":0.35},{"x":0.975,"y":1.125,"e":0.35},{"x":1.025,"y":1.125,"e":0.35},{"x":1.075,"y":1.125,"e":0.35},{"x":1.125,"y":1.125,"e":0.35},{"x":1.175,"y":1.125,"e":0.45},{"x":1.225,"y":1.125,"e":0.45},{"x":1.275,"y":1.125,"e":0.55},{"x":1.325,"y":1.125,"e":0.65},{"x":1.375,"y":1.125,"e":0.75},{"x":1.425,"y":1.125,"e":0.75},{"x":1.475,"y":1.125,"e":0.75},{"x":1.525,"y":1.125,"e":0.85},{"x":1.575,"y":1.125,"e":0.85},{"x":1.625,"y":1.125,"e":0.85},{"x":1.675,"y":1.125,"e":0.85},{"x":1.725,"y":1.125,"e":0.85},{"x":1.775,"y":1.125,"e":0.85},{"x":1.825,"y":1.125,"e":0.85},{"x":1.875,"y":1.125,"e":0.85},{"x":1.925,"y":1.125,"e":0.85},{"x":1.975,"y":1.125,"e":0.75},
{"x":0.025,"y":1.175,"e":0.75},{"x":0.075,"y":1.175,"e":0.75},{"x":0.125,"y":1.175,"e":0.65},{"x":0.175,"y":1.175,"e":0.65},{"x":0.225,"y":1.175,"e":0.65},{"x":0.275,"y":1.175,"e":0.65},{"x":0.325,"y":1.175,"e":0.65},{"x":0.375,"y":1.175,"e":0.65},{"x":0.425,"y":1.175,"e":0.65},{"x":0.475,"y":1.175,"e":0.65},{"x":0.525,"y":1.175,"e":0.65},{"x":0.575,"y":1.175,"e":0.65},{"x":0.625,"y":1.175,"e":0.55},{"x":0.675,"y":1.175,"e":0.55},{"x":0.725,"y":1.175,"e":0.45},{"x":0.775,"y":1.175,"e":0.45},{"x":0.825,"y":1.175,"e":0.35},{"x":0.875,"y":1.175,"e":0.35},{"x":0.925,"y":1.175,"e":0.45},{"x":0.975,"y":1.175,"e":0.45},{"x":1.025,"y":1.175,"e":0.45},{"x":1.075,"y":1.175,"e":0.45},{"x":1.125,"y":1.175,"e":0.45},{"x":1.175,"y":1.175,"e":0.45},{"x":1.225,"y":1.175,"e":0.45},{"x":1.275,"y":1.175,"e":0.55},{"x":1.325,"y":1.175,"e":0.65},{"x":1.375,"y":1.175,"e":0.75},{"x":1.425,"y":1.175,"e":0.75},{"x":1.475,"y":1.175,"e":0.75},{"x":1.525,"y":1.175,"e":0.85},{"x":1.575,"y":1.175,"e":0.85},{"x":1.625,"y":1.175,"e":0.85},{"x":1.675,"y":1.175,"e":0.85},{"x":1.725,"y":1.175,"e":0.85},{"x":1.775,"y":1.175,"e":0.85},{"x":1.825,"y":1.175,"e":0.85},{"x":1.875,"y":1.175,"e":0.85},{"x":1.925,"y":1.175,"e":0.85},{"x":1.975,"y":1.175,"e":0.85},
{"x":0.025,"y":1.225,"e":0.75},{"x":0.075,"y":1.225,"e":0.75},{"x":0.125,"y":1.225,"e":0.65},{"x":0.175,"y":1.225,"e":0.65},{"x":0.225,"y":1.225,"e":0.55},{"x":0.275,"y":1.225,"e":0.55},{"x":0.325,"y":1.225,"e":0.55},{"x":0.375,"y":1.225,"e":0.55},{"x":0.425,"y":1.225,"e":0.55},{"x":0.475,"y":1.225,"e":0.55},{"x":0.525,"y":1.225,"e":0.55},{"x":0.575,"y":1.225,"e":0.55},{"x":0.625,"y":1.225,"e":0.55},{"x":0.675,"y":1.225,"e":0.45},{"x":0.725,"y":1.225,"e":0.45},{"x":0.775,"y":1.225,"e":0.45},{"x":0.825,"y":1.225,"e":0.45},{"x":0.875,"y":1.225,"e":0.45},{"x":0.925,"y":1.225,"e":0.45},{"x":0.975,"y":1.225,"e":0.45},{"x":1.025,"y":1.225,"e":0.45},{"x":1.075,"y":1.225,"e":0.45},{"x":1.125,"y":1.225,"e":0.45},{"x":1.175,"y":1.225,"e":0.45},{"x":1.225,"y":1.225,"e":0.45},{"x":1.275,"y":1.225,"e":0.55},{"x":1.325,"y":1.225,"e":0.65},{"x":1.375,"y":1.225,"e":0.65},{"x":1.425,"y":1.225,"e":0.75},{"x":1.475,"y":1.225,"e":0.75},{"x":1.525,"y":1.225,"e":0.85},{"x":1.575,"y":1.225,"e":0.85},{"x":1.625,"y":1.225,"e":0.85},{"x":1.675,"y":1.225,"e":0.85},{"x":1.725,"y":1.225,"e":0.85},{"x":1.775,"y":1.225,"e":0.85},{"x":1.825,"y":1.225,"e":0.85},{"x":1.875,"y":1.225,"e":0.85},{"x":1.925,"y":1.225,"e":0.85},{"x":1.975,"y":1.225,"e":0.85},
{"x":0.025,"y":1.275,"e":0.75},{"x":0.075,"y":1.275,"e":0.75},{"x":0.125,"y":1.275,"e":0.65},{"x":0.175,"y":1.275,"e":0.65},{"x":0.225,"y":1.275,"e":0.55},{"x":0.275,"y":1.275,"e":0.45},{"x":0.325,"y":1.275,"e":0.45},{"x":0.375,"y":1.275,"e":0.45},{"x":0.425,"y":1.275,"e":0.45},{"x":0.475,"y":1.275,"e":0.45},{"x":0.525,"y":1.275,"e":0.45},{"x":0.575,"y":1.275,"e":0.45},{"x":0.625,"y":1.275,"e":0.45},{"x":0.675,"y":1.275,"e":0.45},{"x":0.725,"y":1.275,"e":0.45},{"x":0.775,"y":1.275,"e":0.45},{"x":0.825,"y":1.275,"e":0.45},{"x":0.875,"y":1.275,"e":0.55},{"x":0.925,"y":1.275,"e":0.55},{"x":0.975,"y":1.275,"e":0.55},{"x":1.025,"y":1.275,"e":0.55},{"x":1.075,"y":1.275,"e":0.55},{"x":1.125,"y":1.275,"e":0.55},{"x":1.175,"y":1.275,"e":0.55},{"x":1.225,"y":1.275,"e":0.55},{"x":1.275,"y":1.275,"e":0.55},{"x":1.325,"y":1.275,"e":0.65},{"x":1.375,"y":1.275,"e":0.65},{"x":1.425,"y":1.275,"e":0.75},{"x":1.475,"y":1.275,"e":0.75},{"x":1.525,"y":1.275,"e":0.85},{"x":1.575,"y":1.275,"e":0.85},{"x":1.625,"y":1.275,"e":0.85},{"x":1.675,"y":1.275,"e":0.85},{"x":1.725,"y":1.275,"e":0.85},{"x":1.775,"y":1.275,"e":0.85},{"x":1.825,"y":1.275,"e":0.85},{"x":1.875,"y":1.275,"e":0.85},{"x":1.925,"y":1.275,"e":0.85},{"x":1.975,"y":1.275,"e":0.85},
{"x":0.025,"y":1.325,"e":0.75},{"x":0.075,"y":1.325,"e":0.75},{"x":0.125,"y":1.325,"e":0.75},{"x":0.175,"y":1.325,"e":0.65},{"x":0.225,"y":1.325,"e":0.55},{"x":0.275,"y":1.325,"e":0.45},{"x":0.325,"y":1.325,"e":0.45},{"x":0.375,"y":1.325,"e":0.45},{"x":0.425,"y":1.325,"e":0.45},{"x":0.475,"y":1.325,"e":0.45},{"x":0.525,"y":1.325,"e":0.45},{"x":0.575,"y":1.325,"e":0.45},{"x":0.625,"y":1.325,"e":0.35},{"x":0.675,"y":1.325,"e":0.35},{"x":0.725,"y":1.325,"e":0.45},{"x":0.775,"y":1.325,"e":0.45},{"x":0.825,"y":1.325,"e":0.55},{"x":0.875,"y":1.325,"e":0.55},{"x":0.925,"y":1.325,"e":0.65},{"x":0.975,"y":1.325,"e":0.65},{"x":1.025,"y":1.325,"e":0.65},{"x":1.075,"y":1.325,"e":0.65},{"x":1.125,"y":1.325,"e":0.65},{"x":1.175,"y":1.325,"e":0.65},{"x":1.225,"y":1.325,"e":0.65},{"x":1.275,"y":1.325,"e":0.65},{"x":1.325,"y":1.325,"e":0.65},{"x":1.375,"y":1.325,"e":0.65},{"x":1.425,"y":1.325,"e":0.75},{"x":1.475,"y":1.325,"e":0.75},{"x":1.525,"y":1.325,"e":0.85},{"x":1.575,"y":1.325,"e":0.85},{"x":1.625,"y":1.325,"e":0.85},{"x":1.675,"y":1.325,"e":0.85},{"x":1.725,"y":1.325,"e":0.85},{"x":1.775,"y":1.325,"e":0.85},{"x":1.825,"y":1.325,"e":0.85},{"x":1.875,"y":1.325,"e":0.85},{"x":1.925,"y":1.325,"e":0.85},{"x":1.975,"y":1.325,"e":0.85},
{"x":0.025,"y":1.375,"e":0.75},{"x":0.075,"y":1.375,"e":0.75},{"x":0.125,"y":1.375,"e":0.75},{"x":0.175,"y":1.375,"e":0.65},{"x":0.225,"y":1.375,"e":0.55},{"x":0.275,"y":1.375,"e":0.45},{"x":0.325,"y":1.375,"e":0.45},{"x":0.375,"y":1.375,"e":0.35},{"x":0.425,"y":1.375,"e":0.35},{"x":0.475,"y":1.375,"e":0.35},{"x":0.525,"y":1.375,"e":0.35},{"x":0.575,"y":1.375,"e":0.35},{"x":0.625,"y":1.375,"e":0.35},{"x":0.675,"y":1.375,"e":0.35},{"x":0.725,"y":1.375,"e":0.45},{"x":0.775,"y":1.375,"e":0.55},{"x":0.825,"y":1.375,"e":0.55},{"x":0.875,"y":1.375,"e":0.65},{"x":0.925,"y":1.375,"e":0.65},{"x":0.975,"y":1.375,"e":0.65},{"x":1.025,"y":1.375,"e":0.65},{"x":1.075,"y":1.375,"e":0.65},{"x":1.125,"y":1.375,"e":0.75},{"x":1.175,"y":1.375,"e":0.75},{"x":1.225,"y":1.375,"e":0.65},{"x":1.275,"y":1.375,"e":0.65},{"x":1.325,"y":1.375,"e":0.65},{"x":1.375,"y":1.375,"e":0.65},{"x":1.425,"y":1.375,"e":0.75},{"x":1.475,"y":1.375,"e":0.75},{"x":1.525,"y":1.375,"e":0.75},{"x":1.575,"y":1.375,"e":0.85},{"x":1.625,"y":1.375,"e":0.85},{"x":1.675,"y":1.375,"e":0.85},{"x":1.725,"y":1.375,"e":0.85},{"x":1.775,"y":1.375,"e":0.85},{"x":1.825,"y":1.375,"e":0.85},{"x":1.875,"y":1.375,"e":0.85},{"x":1.925,"y":1.375,"e":0.85},{"x":1.975,"y":1.375,"e":0.85},
{"x":0.025,"y":1.425,"e":0.75},{"x":0.075,"y":1.425,"e":0.75},{"x":0.125,"y":1.425,"e":0.65},{"x":0.175,"y":1.425,"e":0.65},{"x":0.225,"y":1.425,"e":0.55},{"x":0.275,"y":1.425,"e":0.45},{"x":0.325,"y":1.425,"e":0.45},{"x":0.375,"y":1.425,"e":0.35},{"x":0.425,"y":1.425,"e":0.15},{"x":0.475,"y":1.425,"e":0.15},{"x":0.525,"y":1.425,"e":0.15},{"x":0.575,"y":1.425,"e":0.25},{"x":0.625,"y":1.425,"e":0.35},{"x":0.675,"y":1.425,"e":0.45},{"x":0.725,"y":1.425,"e":0.45},{"x":0.775,"y":1.425,"e":0.55},{"x":0.825,"y":1.425,"e":0.65},{"x":0.875,"y":1.425,"e":0.65},{"x":0.925,"y":1.425,"e":0.65},{"x":0.975,"y":1.425,"e":0.75},{"x":1.025,"y":1.425,"e":0.75},{"x":1.075,"y":1.425,"e":0.75},{"x":1.125,"y":1.425,"e":0.75},{"x":1.175,"y":1.425,"e":0.75},{"x":1.225,"y":1.425,"e":0.75},{"x":1.275,"y":1.425,"e":0.75},{"x":1.325,"y":1.425,"e":0.75},{"x":1.375,"y":1.425,"e":0.75},{"x":1.425,"y":1.425,"e":0.65},{"x":1.475,"y":1.425,"e":0.75},{"x":1.525,"y":1.425,"e":0.75},{"x":1.575,"y":1.425,"e":0.75},{"x":1.625,"y":1.425,"e":0.85},{"x":1.675,"y":1.425,"e":0.85},{"x":1.725,"y":1.425,"e":0.85},{"x":1.775,"y":1.425,"e":0.85},{"x":1.825,"y":1.425,"e":0.85},{"x":1.875,"y":1.425,"e":0.85},{"x":1.925,"y":1.425,"e":0.85},{"x":1.975,"y":1.425,"e":0.85},
{"x":0.025,"y":1.475,"e":0.75},{"x":0.075,"y":1.475,"e":0.75},{"x":0.125,"y":1.475,"e":0.65},{"x":0.175,"y":1.475,"e":0.65},{"x":0.225,"y":1.475,"e":0.55},{"x":0.275,"y":1.475,"e":0.45},{"x":0.325,"y":1.475,"e":0.45},{"x":0.375,"y":1.475,"e":0.35},{"x":0.425,"y":1.475,"e":0.15},{"x":0.475,"y":1.475,"e":0.05},{"x":0.525,"y":1.475,"e":0.05},{"x":0.575,"y":1.475,"e":0.15},{"x":0.625,"y":1.475,"e":0.35},{"x":0.675,"y":1.475,"e":0.45},{"x":0.725,"y":1.475,"e":0.45},{"x":0.775,"y":1.475,"e":0.55},{"x":0.825,"y":1.475,"e":0.65},{"x":0.875,"y":1.475,"e":0.65},{"x":0.925,"y":1.475,"e":0.75},{"x":0.975,"y":1.475,"e":0.75},{"x":1.025,"y":1.475,"e":0.75},{"x":1.075,"y":1.475,"e":0.75},{"x":1.125,"y":1.475,"e":0.75},{"x":1.175,"y":1.475,"e":0.75},{"x":1.225,"y":1.475,"e":0.75},{"x":1.275,"y":1.475,"e":0.75},{"x":1.325,"y":1.475,"e":0.75},{"x":1.375,"y":1.475,"e":0.75},{"x":1.425,"y":1.475,"e":0.75},{"x":1.475,"y":1.475,"e":0.65},{"x":1.525,"y":1.475,"e":0.75},{"x":1.575,"y":1.475,"e":0.75},{"x":1.625,"y":1.475,"e":0.75},{"x":1.675,"y":1.475,"e":0.85},{"x":1.725,"y":1.475,"e":0.85},{"x":1.775,"y":1.475,"e":0.85},{"x":1.825,"y":1.475,"e":0.85},{"x":1.875,"y":1.475,"e":0.85},{"x":1.925,"y":1.475,"e":0.85},{"x":1.975,"y":1.475,"e":0.75},
{"x":0.025,"y":1.525,"e":0.75},{"x":0.075,"y":1.525,"e":0.75},{"x":0.125,"y":1.525,"e":0.65},{"x":0.175,"y":1.525,"e":0.65},{"x":0.225,"y":1.525,"e":0.55},{"x":0.275,"y":1.525,"e":0.45},{"x":0.325,"y":1.525,"e":0.45},{"x":0.375,"y":1.525,"e":0.35},{"x":0.425,"y":1.525,"e":0.15},{"x":0.475,"y":1.525,"e":0.05},{"x":0.525,"y":1.525,"e":0.05},{"x":0.575,"y":1.525,"e":0.15},{"x":0.625,"y":1.525,"e":0.35},{"x":0.675,"y":1.525,"e":0.45},{"x":0.725,"y":1.525,"e":0.45},{"x":0.775,"y":1.525,"e":0.55},{"x":0.825,"y":1.525,"e":0.65},{"x":0.875,"y":1.525,"e":0.65},{"x":0.925,"y":1.525,"e":0.75},{"x":0.975,"y":1.525,"e":0.75},{"x":1.025,"y":1.525,"e":0.75},{"x":1.075,"y":1.525,"e":0.85},{"x":1.125,"y":1.525,"e":0.85},{"x":1.175,"y":1.525,"e":0.85},{"x":1.225,"y":1.525,"e":0.85},{"x":1.275,"y":1.525,"e":0.85},{"x":1.325,"y":1.525,"e":0.85},{"x":1.375,"y":1.525,"e":0.75},{"x":1.425,"y":1.525,"e":0.75},{"x":1.475,"y":1.525,"e":0.75},{"x":1.525,"y":1.525,"e":0.65},{"x":1.575,"y":1.525,"e":0.75},{"x":1.625,"y":1.525,"e":0.75},{"x":1.675,"y":1.525,"e":0.75},{"x":1.725,"y":1.525,"e":0.75},{"x":1.775,"y":1.525,"e":0.75},{"x":1.825,"y":1.525,"e":0.75},{"x":1.875,"y":1.525,"e":0.75},{"x":1.925,"y":1.525,"e":0.75},{"x":1.975,"y":1.525,"e":0.75},
{"x":0.025,"y":1.575,"e":0.75},{"x":0.075,"y":1.575,"e":0.65},{"x":0.125,"y":1.575,"e":0.65},{"x":0.175,"y":1.575,"e":0.65},{"x":0.225,"y":1.575,"e":0.55},{"x":0.275,"y":1.575,"e":0.45},{"x":0.325,"y":1.575,"e":0.45},{"x":0.375,"y":1.575,"e":0.35},{"x":0.425,"y":1.575,"e":0.25},{"x":0.475,"y":1.575,"e":0.15},{"x":0.525,"y":1.575,"e":0.15},{"x":0.575,"y":1.575,"e":0.15},{"x":0.625,"y":1.575,"e":0.35},{"x":0.675,"y":1.575,"e":0.45},{"x":0.725,"y":1.575,"e":0.45},{"x":0.775,"y":1.575,"e":0.55},{"x":0.825,"y":1.575,"e":0.65},{"x":0.875,"y":1.575,"e":0.65},{"x":0.925,"y":1.575,"e":0.75},{"x":0.975,"y":1.575,"e":0.75},{"x":1.025,"y":1.575,"e":0.85},{"x":1.075,"y":1.575,"e":0.85},{"x":1.125,"y":1.575,"e":0.85},{"x":1.175,"y":1.575,"e":0.85},{"x":1.225,"y":1.575,"e":0.85},{"x":1.275,"y":1.575,"e":0.85},{"x":1.325,"y":1.575,"e":0.85},{"x":1.375,"y":1.575,"e":0.85},{"x":1.425,"y":1.575,"e":0.75},{"x":1.475,"y":1.575,"e":0.75},{"x":1.525,"y":1.575,"e":0.75},{"x":1.575,"y":1.575,"e":0.65},{"x":1.625,"y":1.575,"e":0.75},{"x":1.675,"y":1.575,"e":0.75},{"x":1.725,"y":1.575,"e":0.75},{"x":1.775,"y":1.575,"e":0.75},{"x":1.825,"y":1.575,"e":0.75},{"x":1.875,"y":1.575,"e":0.75},{"x":1.925,"y":1.575,"e":0.75},{"x":1.975,"y":1.575,"e":0.75},
{"x":0.025,"y":1.625,"e":0.65},{"x":0.075,"y":1.625,"e":0.65},{"x":0.125,"y":1.625,"e":0.65},{"x":0.175,"y":1.625,"e":0.55},{"x":0.225,"y":1.625,"e":0.55},{"x":0.275,"y":1.625,"e":0.45},{"x":0.325,"y":1.625,"e":0.35},{"x":0.375,"y":1.625,"e":0.35},{"x":0.425,"y":1.625,"e":0.35},{"x":0.475,"y":1.625,"e":0.35},{"x":0.525,"y":1.625,"e":0.35},{"x":0.575,"y":1.625,"e":0.35},{"x":0.625,"y":1.625,"e":0.35},{"x":0.675,"y":1.625,"e":0.45},{"x":0.725,"y":1.625,"e":0.45},{"x":0.775,"y":1.625,"e":0.55},{"x":0.825,"y":1.625,"e":0.65},{"x":0.875,"y":1.625,"e":0.75},{"x":0.925,"y":1.625,"e":0.75},{"x":0.975,"y":1.625,"e":0.75},{"x":1.025,"y":1.625,"e":0.85},{"x":1.075,"y":1.625,"e":0.85},{"x":1.125,"y":1.625,"e":0.85},{"x":1.175,"y":1.625,"e":0.85},{"x":1.225,"y":1.625,"e":0.85},{"x":1.275,"y":1.625,"e":0.85},{"x":1.325,"y":1.625,"e":0.85},{"x":1.375,"y":1.625,"e":0.85},{"x":1.425,"y":1.625,"e":0.85},{"x":1.475,"y":1.625,"e":0.75},{"x":1.525,"y":1.625,"e":0.75},{"x":1.575,"y":1.625,"e":0.75},{"x":1.625,"y":1.625,"e":0.65},{"x":1.675,"y":1.625,"e":0.65},{"x":1.725,"y":1.625,"e":0.65},{"x":1.775,"y":1.625,"e":0.65},{"x":1.825,"y":1.625,"e":0.75},{"x":1.875,"y":1.625,"e":0.75},{"x":1.925,"y":1.625,"e":0.65},{"x":1.975,"y":1.625,"e":0.65},
{"x":0.025,"y":1.675,"e":0.65},{"x":0.075,"y":1.675,"e":0.65},{"x":0.125,"y":1.675,"e":0.55},{"x":0.175,"y":1.675,"e":0.55},{"x":0.225,"y":1.675,"e":0.45},{"x":0.275,"y":1.675,"e":0.45},{"x":0.325,"y":1.675,"e":0.35},{"x":0.375,"y":1.675,"e":0.35},{"x":0.425,"y":1.675,"e":0.45},{"x":0.475,"y":1.675,"e":0.45},{"x":0.525,"y":1.675,"e":0.45},{"x":0.575,"y":1.675,"e":0.45},{"x":0.625,"y":1.675,"e":0.45},{"x":0.675,"y":1.675,"e":0.45},{"x":0.725,"y":1.675,"e":0.45},{"x":0.775,"y":1.675,"e":0.55},{"x":0.825,"y":1.675,"e":0.65},{"x":0.875,"y":1.675,"e":0.75},{"x":0.925,"y":1.675,"e":0.75},{"x":0.975,"y":1.675,"e":0.75},{"x":1.025,"y":1.675,"e":0.85},{"x":1.075,"y":1.675,"e":0.85},{"x":1.125,"y":1.675,"e":0.85},{"x":1.175,"y":1.675,"e":0.85},{"x":1.225,"y":1.675,"e":0.85},{"x":1.275,"y":1.675,"e":0.85},{"x":1.325,"y":1.675,"e":0.85},{"x":1.375,"y":1.675,"e":0.85},{"x":1.425,"y":1.675,"e":0.85},{"x":1.475,"y":1.675,"e":0.85},{"x":1.525,"y":1.675,"e":0.75},{"x":1.575,"y":1.675,"e":0.75},{"x":1.625,"y":1.675,"e":0.65},{"x":1.675,"y":1.675,"e":0.65},{"x":1.725,"y":1.675,"e":0.65},{"x":1.775,"y":1.675,"e":0.65},{"x":1.825,"y":1.675,"e":0.65},{"x":1.875,"y":1.675,"e":0.65},{"x":1.925,"y":1.675,"e":0.65},{"x":1.975,"y":1.675,"e":0.65},
{"x":0.025,"y":1.725,"e":0.55},{"x":0.075,"y":1.725,"e":0.55},{"x":0.125,"y":1.725,"e":0.55},{"x":0.175,"y":1.725,"e":0.45},{"x":0.225,"y":1.725,"e":0.45},{"x":0.275,"y":1.725,"e":0.45},{"x":0.325,"y":1.725,"e":0.45},{"x":0.375,"y":1.725,"e":0.45},{"x":0.425,"y":1.725,"e":0.45},{"x":0.475,"y":1.725,"e":0.45},{"x":0.525,"y":1.725,"e":0.45},{"x":0.575,"y":1.725,"e":0.45},{"x":0.625,"y":1.725,"e":0.45},{"x":0.675,"y":1.725,"e":0.45},{"x":0.725,"y":1.725,"e":0.45},{"x":0.775,"y":1.725,"e":0.55},{"x":0.825,"y":1.725,"e":0.65},{"x":0.875,"y":1.725,"e":0.65},{"x":0.925,"y":1.725,"e":0.75},{"x":0.975,"y":1.725,"e":0.75},{"x":1.025,"y":1.725,"e":0.85},{"x":1.075,"y":1.725,"e":0.85},{"x":1.125,"y":1.725,"e":0.85},{"x":1.175,"y":1.725,"e":0.85},{"x":1.225,"y":1.725,"e":0.85},{"x":1.275,"y":1.725,"e":0.85},{"x":1.325,"y":1.725,"e":0.85},{"x":1.375,"y":1.725,"e":0.85},{"x":1.425,"y":1.725,"e":0.85},{"x":1.475,"y":1.725,"e":0.85},{"x":1.525,"y":1.725,"e":0.75},{"x":1.575,"y":1.725,"e":0.75},{"x":1.625,"y":1.725,"e":0.65},{"x":1.675,"y":1.725,"e":0.65},{"x":1.725,"y":1.725,"e":0.55},{"x":1.775,"y":1.725,"e":0.55},{"x":1.825,"y":1.725,"e":0.55},{"x":1.875,"y":1.725,"e":0.55},{"x":1.925,"y":1.725,"e":0.55},{"x":1.975,"y":1.725,"e":0.55},
{"x":0.025,"y":1.775,"e":0.45},{"x":0.075,"y":1.775,"e":0.45},{"x":0.125,"y":1.775,"e":0.45},{"x":0.175,"y":1.775,"e":0.45},{"x":0.225,"y":1.775,"e":0.45},{"x":0.275,"y":1.775,"e":0.45},{"x":0.325,"y":1.775,"e":0.45},{"x":0.375,"y":1.775,"e":0.55},{"x":0.425,"y":1.775,"e":0.55},{"x":0.475,"y":1.775,"e":0.55},{"x":0.525,"y":1.775,"e":0.55},{"x":0.575,"y":1.775,"e":0.55},{"x":0.625,"y":1.775,"e":0.55},{"x":0.675,"y":1.775,"e":0.55},{"x":0.725,"y":1.775,"e":0.55},{"x":0.775,"y":1.775,"e":0.55},{"x":0.825,"y":1.775,"e":0.65},{"x":0.875,"y":1.775,"e":0.65},{"x":0.925,"y":1.775,"e":0.75},{"x":0.975,"y":1.775,"e":0.75},{"x":1.025,"y":1.775,"e":0.85},{"x":1.075,"y":1.775,"e":0.85},{"x":1.125,"y":1.775,"e":0.85},{"x":1.175,"y":1.775,"e":0.85},{"x":1.225,"y":1.775,"e":0.85},{"x":1.275,"y":1.775,"e":0.85},{"x":1.325,"y":1.775,"e":0.85},{"x":1.375,"y":1.775,"e":0.85},{"x":1.425,"y":1.775,"e":0.85},{"x":1.475,"y":1.775,"e":0.85},{"x":1.525,"y":1.775,"e":0.75},{"x":1.575,"y":1.775,"e":0.75},{"x":1.625,"y":1.775,"e":0.65},{"x":1.675,"y":1.775,"e":0.65},{"x":1.725,"y":1.775,"e":0.55},{"x":1.775,"y":1.775,"e":0.45},{"x":1.825,"y":1.775,"e":0.45},{"x":1.875,"y":1.775,"e":0.45},{"x":1.925,"y":1.775,"e":0.45},{"x":1.975,"y":1.775,"e":0.45},
{"x":0.025,"y":1.825,"e":0.45},{"x":0.075,"y":1.825,"e":0.45},{"x":0.125,"y":1.825,"e":0.35},{"x":0.175,"y":1.825,"e":0.35},{"x":0.225,"y":1.825,"e":0.45},{"x":0.275,"y":1.825,"e":0.45},{"x":0.325,"y":1.825,"e":0.55},{"x":0.375,"y":1.825,"e":0.55},{"x":0.425,"y":1.825,"e":0.65},{"x":0.475,"y":1.825,"e":0.65},{"x":0.525,"y":1.825,"e":0.65},{"x":0.575,"y":1.825,"e":0.65},{"x":0.625,"y":1.825,"e":0.65},{"x":0.675,"y":1.825,"e":0.65},{"x":0.725,"y":1.825,"e":0.65},{"x":0.775,"y":1.825,"e":0.65},{"x":0.825,"y":1.825,"e":0.65},{"x":0.875,"y":1.825,"e":0.65},{"x":0.925,"y":1.825,"e":0.75},{"x":0.975,"y":1.825,"e":0.75},{"x":1.025,"y":1.825,"e":0.85},{"x":1.075,"y":1.825,"e":0.85},{"x":1.125,"y":1.825,"e":0.85},{"x":1.175,"y":1.825,"e":0.85},{"x":1.225,"y":1.825,"e":0.85},{"x":1.275,"y":1.825,"e":0.85},{"x":1.325,"y":1.825,"e":0.85},{"x":1.375,"y":1.825,"e":0.85},{"x":1.425,"y":1.825,"e":0.85},{"x":1.475,"y":1.825,"e":0.85},{"x":1.525,"y":1.825,"e":0.75},{"x":1.575,"y":1.825,"e":0.75},{"x":1.625,"y":1.825,"e":0.75},{"x":1.675,"y":1.825,"e":0.65},{"x":1.725,"y":1.825,"e":0.55},{"x":1.775,"y":1.825,"e":0.45},{"x":1.825,"y":1.825,"e":0.45},{"x":1.875,"y":1.825,"e":0.45},{"x":1.925,"y":1.825,"e":0.45},{"x":1.975,"y":1.825,"e":0.45},
{"x":0.025,"y":1.875,"e":0.35},{"x":0.075,"y":1.875,"e":0.35},{"x":0.125,"y":1.875,"e":0.35},{"x":0.175,"y":1.875,"e":0.35},{"x":0.225,"y":1.875,"e":0.45},{"x":0.275,"y":1.875,"e":0.55},{"x":0.325,"y":1.875,"e":0.55},{"x":0.375,"y":1.875,"e":0.65},{"x":0.425,"y":1.875,"e":0.65},{"x":0.475,"y":1.875,"e":0.65},{"x":0.525,"y":1.875,"e":0.65},{"x":0.575,"y":1.875,"e":0.65},{"x":0.625,"y":1.875,"e":0.75},{"x":0.675,"y":1.875,"e":0.75},{"x":0.725,"y":1.875,"e":0.65},{"x":0.775,"y":1.875,"e":0.65},{"x":0.825,"y":1.875,"e":0.65},{"x":0.875,"y":1.875,"e":0.65},{"x":0.925,"y":1.875,"e":0.75},{"x":0.975,"y":1.875,"e":0.75},{"x":1.025,"y":1.875,"e":0.75},{"x":1.075,"y":1.875,"e":0.85},{"x":1.125,"y":1.875,"e":0.85},{"x":1.175,"y":1.875,"e":0.85},{"x":1.225,"y":1.875,"e":0.85},{"x":1.275,"y":1.875,"e":0.85},{"x":1.325,"y":1.875,"e":0.85},{"x":1.375,"y":1.875,"e":0.85},{"x":1.425,"y":1.875,"e":0.85},{"x":1.475,"y":1.875,"e":0.85},{"x":1.525,"y":1.875,"e":0.75},{"x":1.575,"y":1.875,"e":0.75},{"x":1.625,"y":1.875,"e":0.75},{"x":1.675,"y":1.875,"e":0.65},{"x":1.725,"y":1.875,"e":0.55},{"x":1.775,"y":1.875,"e":0.45},{"x":1.825,"y":1.875,"e":0.45},{"x":1.875,"y":1.875,"e":0.35},{"x":1.925,"y":1.875,"e":0.35},{"x":1.975,"y":1.875,"e":0.35},
{"x":0.025,"y":1.925,"e":0.15},{"x":0.075,"y":1.925,"e":0.25},{"x":0.125,"y":1.925,"e":0.35},{"x":0.175,"y":1.925,"e":0.45},{"x":0.225,"y":1.925,"e":0.45},{"x":0.275,"y":1.925,"e":0.55},{"x":0.325,"y":1.925,"e":0.65},{"x":0.375,"y":1.925,"e":0.65},{"x":0.425,"y":1.925,"e":0.65},{"x":0.475,"y":1.925,"e":0.75},{"x":0.525,"y":1.925,"e":0.75},{"x":0.575,"y":1.925,"e":0.75},{"x":0.625,"y":1.925,"e":0.75},{"x":0.675,"y":1.925,"e":0.75},{"x":0.725,"y":1.925,"e":0.75},{"x":0.775,"y":1.925,"e":0.75},{"x":0.825,"y":1.925,"e":0.75},{"x":0.875,"y":1.925,"e":0.75},{"x":0.925,"y":1.925,"e":0.65},{"x":0.975,"y":1.925,"e":0.75},{"x":1.025,"y":1.925,"e":0.75},{"x":1.075,"y":1.925,"e":0.75},{"x":1.125,"y":1.925,"e":0.85},{"x":1.175,"y":1.925,"e":0.85},{"x":1.225,"y":1.925,"e":0.85},{"x":1.275,"y":1.925,"e":0.85},{"x":1.325,"y":1.925,"e":0.85},{"x":1.375,"y":1.925,"e":0.85},{"x":1.425,"y":1.925,"e":0.85},{"x":1.475,"y":1.925,"e":0.85},{"x":1.525,"y":1.925,"e":0.75},{"x":1.575,"y":1.925,"e":0.75},{"x":1.625,"y":1.925,"e":0.65},{"x":1.675,"y":1.925,"e":0.65},{"x":1.725,"y":1.925,"e":0.55},{"x":1.775,"y":1.925,"e":0.45},{"x":1.825,"y":1.925,"e":0.45},{"x":1.875,"y":1.925,"e":0.35},{"x":1.925,"y":1.925,"e":0.15},{"x":1.975,"y":1.925,"e":0.15},
{"x":0.025,"y":1.975,"e":0.05},{"x":0.075,"y":1.975,"e":0.15},{"x":0.125,"y":1.975,"e":0.35},{"x":0.175,"y":1.975,"e":0.45},{"x":0.225,"y":1.975,"e":0.45},{"x":0.275,"y":1.975,"e":0.55},{"x":0.325,"y":1.975,"e":0.65},{"x":0.375,"y":1.975,"e":0.65},{"x":0.425,"y":1.975,"e":0.75},{"x":0.475,"y":1.975,"e":0.75},{"x":0.525,"y":1.975,"e":0.75},{"x":0.575,"y":1.975,"e":0.75},{"x":0.625,"y":1.975,"e":0.75},{"x":0.675,"y":1.975,"e":0.75},{"x":0.725,"y":1.975,"e":0.75},{"x":0.775,"y":1.975,"e":0.75},{"x":0.825,"y":1.975,"e":0.75},{"x":0.875,"y":1.975,"e":0.75},{"x":0.925,"y":1.975,"e":0.75},{"x":0.975,"y":1.975,"e":0.65},{"x":1.025,"y":1.975,"e":0.75},{"x":1.075,"y":1.975,"e":0.75},{"x":1.125,"y":1.975,"e":0.75},{"x":1.175,"y":1.975,"e":0.85},{"x":1.225,"y":1.975,"e":0.85},{"x":1.275,"y":1.975,"e":0.85},{"x":1.325,"y":1.975,"e":0.85},{"x":1.375,"y":1.975,"e":0.85},{"x":1.425,"y":1.975,"e":0.85},{"x":1.475,"y":1.975,"e":0.75},{"x":1.525,"y":1.975,"e":0.75},{"x":1.575,"y":1.975,"e":0.75},{"x":1.625,"y":1.975,"e":0.65},{"x":1.675,"y":1.975,"e":0.65},{"x":1.725,"y":1.975,"e":0.55},{"x":1.775,"y":1.975,"e":0.45},{"x":1.825,"y":1.975,"e":0.45},{"x":1.875,"y":1.975,"e":0.35},{"x":1.925,"y":1.975,"e":0.15},{"x":1.975,"y":1.975,"e":0.05}
]},
"layer":[
{"mark":{"type":"rect","binSpacing":0,"strokeWidth":0.6},
"encoding":{
"x":{"field":"x","type":"quantitative","bin":{"step":0.05,"extent":[0,2]},"scale":{"domain":[0,2]},"axis":{"orient":"bottom","values":[0,1,2],"labelExpr":"datum.value == 0 ? '0' : datum.value == 1 ? 'π' : '2 π'","tickSize":4,"tickColor":"#4d4d4d","domain":false,"labelFontSize":12.5,"labelColor":"#333333","labelPadding":3,"labelFlush":false,"title":"Δϕ","titleFontSize":13.5,"titleFontWeight":"normal","titleColor":"#333333","titleAlign":"right","titleX":133,"titleY":43,"titleBaseline":"alphabetic","zindex":1}},
"y":{"field":"y","type":"quantitative","bin":{"step":0.05,"extent":[0,2]},"scale":{"domain":[0,2]},"axis":{"orient":"left","values":[0,1,2],"labelExpr":"datum.value == 0 ? '0' : datum.value == 1 ? 'π' : '2 π'","tickSize":4,"tickColor":"#4d4d4d","domain":false,"labelFontSize":12.5,"labelColor":"#333333","labelPadding":2,"labelFlush":false,"title":"Δϕ","titleFontSize":13.5,"titleFontWeight":"normal","titleColor":"#333333","titleAngle":270,"titleAlign":"right","titleX":-36,"titleY":132,"titleBaseline":"alphabetic","zindex":1}},
"color":{"field":"e","type":"quantitative","scale":{"type":"threshold","domain":[0.1,0.2,0.3,0.4,0.5,0.6,0.7,0.8],"range":["#2d3a8c","#874667","#b95255","#d16758","#e8805a","#f2a261","#f8bf62","#fcd88f","#fdeec2"]},"legend":{"type":"gradient","orient":"none","legendX":297,"legendY":3,"direction":"vertical","gradientLength":204,"gradientThickness":17,"gradientStrokeColor":"#666666","gradientStrokeWidth":0.8,"title":"E","titleFont":"Liberation Serif","titleFontSize":17,"titleFontStyle":"italic","titleFontWeight":"normal","titleColor":"#222222","titlePadding":8,"labelFontSize":11.5,"labelColor":"#555555","labelOffset":8,"format":".1f"}},
"stroke":{"field":"e","type":"quantitative","scale":{"type":"threshold","domain":[0.1,0.2,0.3,0.4,0.5,0.6,0.7,0.8],"range":["#2d3a8c","#874667","#b95255","#d16758","#e8805a","#f2a261","#f8bf62","#fcd88f","#fdeec2"]},"legend":null}
}},
{"data":{"values":[{"x":0,"y":0}]},"mark":{"type":"point","opacity":0},
"encoding":{
"x":{"field":"x","type":"quantitative","scale":{"domain":[0,2]},"axis":{"orient":"top","values":[0,0.1,0.2,0.3,0.4,0.5,0.6,0.7,0.8,0.9,1,1.1,1.2,1.3,1.4,1.5,1.6,1.7,1.8,1.9,2],"labels":false,"domain":false,"offset":-3.5,"tickSize":3.5,"tickColor":"#4d4d4d","title":null,"zindex":2}},
"y":{"field":"y","type":"quantitative","scale":{"domain":[0,2]},"axis":{"orient":"right","values":[0,0.1,0.2,0.3,0.4,0.5,0.6,0.7,0.8,0.9,1,1.1,1.2,1.3,1.4,1.5,1.6,1.7,1.8,1.9,2],"labels":false,"domain":false,"offset":-3.5,"tickSize":3.5,"tickColor":"#4d4d4d","title":null,"zindex":2}}
}},
{"data":{"values":[{}]},"mark":{"type":"text","text":"RL","align":"left","baseline":"alphabetic","dx":1,"dy":46,"fontSize":11,"color":"#333333","font":"Liberation Sans"},
"encoding":{"x":{"datum":1,"type":"quantitative","axis":null},"y":{"datum":0,"type":"quantitative","axis":null}}},
{"data":{"values":[{}]},"mark":{"type":"text","text":"LR","align":"left","baseline":"alphabetic","angle":270,"dx":1,"dy":-33,"fontSize":11,"color":"#333333","font":"Liberation Sans"},
"encoding":{"x":{"datum":0,"type":"quantitative","axis":null},"y":{"datum":1,"type":"quantitative","axis":null}}},
{"data":{"values":[{}]},"mark":{"type":"text","text":"N","align":"left","baseline":"alphabetic","dx":42,"dy":19,"fontSize":11,"fontStyle":"italic","color":"#222222","font":"Liberation Serif"},
"encoding":{"x":{"datum":2,"type":"quantitative","axis":null},"y":{"datum":2,"type":"quantitative","axis":null}}}
],
"resolve":{"axis":{"x":"independent","y":"independent"}}
}
